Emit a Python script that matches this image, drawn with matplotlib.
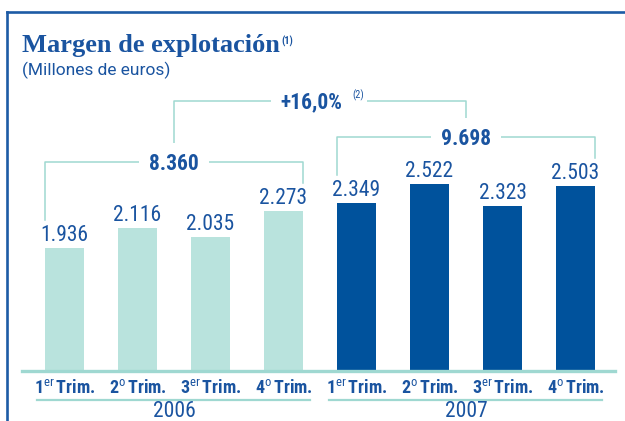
import matplotlib
matplotlib.use('Agg')
import matplotlib.pyplot as plt
from matplotlib.lines import Line2D
import matplotlib.transforms as mtransforms
import numpy as np

# ==========================================
# Datos
# ==========================================
years = ["2006", "2007"]
quarters = ["1", "2", "3", "4"]
quarter_sup = ["er", "o", "er", "o"]
values_2006 = [1936, 2116, 2035, 2273]
values_2007 = [2349, 2522, 2323, 2503]
value_labels = ["1.936", "2.116", "2.035", "2.273", "2.349", "2.522", "2.323", "2.503"]
year_totals = ["8.360", "9.698"]
growth_label = "+16,0%"

# colores
C_LIGHT = '#b9e3dd'
C_DARK = '#00529c'
C_TEXT = '#1a54a0'
C_LINE = '#9fd8d1'
C_FRAME = '#1d5ba5'

COND = 'Roboto Condensed'
plt.rcParams['mathtext.fontset'] = 'custom'
plt.rcParams['mathtext.rm'] = COND
plt.rcParams['mathtext.bf'] = COND + ':bold'
plt.rcParams['mathtext.it'] = COND + ':italic'

W, H = 625, 421
fig = plt.figure(figsize=(W / 100, H / 100), dpi=100)
ax = fig.add_axes([22 / W, 50 / H, 593 / W, 281 / H])

values = values_2006 + values_2007
x = np.arange(len(values))
colors = [C_LIGHT] * 4 + [C_DARK] * 4
bw = 0.534
ax.bar(x, values, width=bw, color=colors, zorder=2)
ax.set_xlim(-0.582, 7.541)
ax.set_ylim(809, 3383)

for s in ax.spines.values():
    s.set_visible(False)
ax.set_yticks([])
ax.axhline(809, color=C_LINE, lw=2.4, zorder=3, clip_on=False)

# etiquetas de trimestre
ticklabels = [f"{q}$^{{\\mathrm{{{s}}}}}\\,$Trim." for q, s in zip(quarters, quarter_sup)] * 2
ax.set_xticks(x)
ax.set_xticklabels(ticklabels, fontfamily=COND, fontweight='bold', fontsize=13, color=C_TEXT)
ax.tick_params(axis='x', length=0, pad=6)

# valores sobre las barras
for xi, v, lab in zip(x, values, value_labels):
    ax.annotate(lab, (xi, v), xytext=(0, 5), textcoords='offset points',
                ha='center', va='baseline', fontfamily=COND, fontsize=15.5, color=C_TEXT)

# años con subrayado
trans = mtransforms.blended_transform_factory(ax.transData, ax.transAxes)
for g, yr in enumerate(years):
    x0, x1 = 4 * g - 0.377, 4 * g + 3.363
    ax.plot([x0, x1], [-0.1032, -0.1032], transform=trans, color=C_LINE, lw=1.6, clip_on=False)
    ax.text(4 * g + 1.5, -0.163, yr, transform=trans, ha='center', va='baseline',
            fontfamily=COND, fontsize=15.5, color=C_TEXT)

# corchetes de totales
box = dict(boxstyle='square,pad=0.45', fc='white', ec='none')
levels = [2723, 2952]
for g in range(2):
    gv = values[4 * g:4 * g + 4]
    xl, xr = 4 * g - bw / 2, 4 * g + 3 + bw / 2
    lv = levels[g]
    ax.plot([xl, xl, xr, xr], [gv[0] + 256, lv, lv, gv[3] + 256], color=C_LINE, lw=1.1,
            zorder=1, clip_on=False)
    ax.annotate(year_totals[g], (4 * g + 1.5, lv), xytext=(0, -5.4), textcoords='offset points',
                ha='center', va='baseline', fontfamily=COND, fontweight='bold', fontsize=15.5,
                color=C_TEXT, bbox=box, zorder=4)

top = 3282
ax.plot([1.5, 1.5, 5.5, 5.5], [levels[0], top, top, levels[1]], color=C_LINE, lw=1.1,
        zorder=1, clip_on=False)
ax.annotate(growth_label, (3.384, top), xytext=(0, -5.4), textcoords='offset points',
            ha='center', va='baseline', fontfamily=COND, fontweight='bold', fontsize=15.5,
            color=C_TEXT, bbox=box, zorder=4, annotation_clip=False)
ax.annotate("(2)", (4.02, top), xytext=(0, 2), textcoords='offset points',
            ha='center', va='baseline', fontfamily=COND, fontsize=7.5,
            color=C_TEXT, bbox=dict(boxstyle='square,pad=0.3', fc='white', ec='none'),
            zorder=4, annotation_clip=False)

# título
fig.text(22 / W, 1 - 52 / H, "Margen de explotación", fontfamily='Liberation Serif',
         fontweight='bold', fontsize=19, color=C_TEXT, va='baseline')
fig.text(281 / W, 1 - 45 / H, "(1)", fontfamily=COND, fontweight='bold', fontsize=7.5,
         color=C_TEXT, va='baseline')
fig.text(22 / W, 1 - 75 / H, "(Millones de euros)", fontfamily='Roboto',
         fontsize=12.5, color=C_TEXT, va='baseline')

# marco
fig.add_artist(Line2D([7 / W, 1], [1 - 12 / H, 1 - 12 / H], color=C_FRAME, lw=1.9,
                      transform=fig.transFigure))
fig.add_artist(Line2D([7 / W, 7 / W], [0, 1 - 12 / H], color=C_FRAME, lw=1.9,
                      transform=fig.transFigure))

fig.savefig('out.png', dpi=100)
